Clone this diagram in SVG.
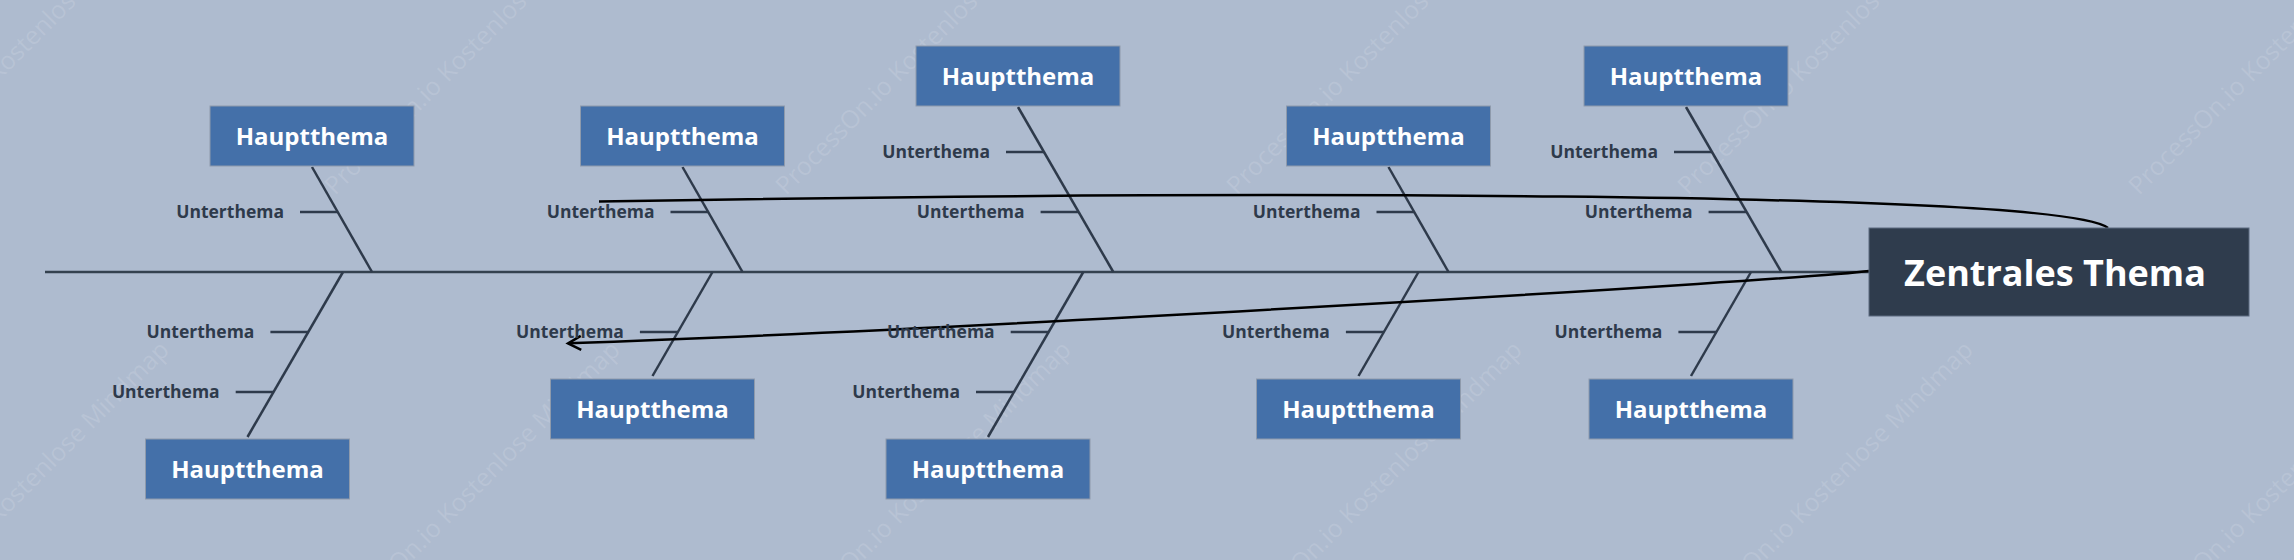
<svg xmlns="http://www.w3.org/2000/svg" width="2294" height="560" viewBox="0 0 2294 560">
<defs>
<style>
.wm{font-family:"Open Sans","Liberation Sans",sans-serif;font-size:25px;fill:#ffffff;fill-opacity:0.13}
.box{fill:#4470a9;stroke:#8e9aac;stroke-width:1}
.ht{font-family:"Open Sans","Noto Sans","Liberation Sans",sans-serif;font-weight:700;font-size:24px;fill:#ffffff;text-anchor:middle}
.ut{font-family:"Open Sans","Noto Sans","Liberation Sans",sans-serif;font-weight:700;font-size:17.5px;fill:#2e3a4b;text-anchor:end}
.bone{stroke:#2e3a4b;stroke-width:2.5;fill:none}
.tick{stroke:#2e3a4b;stroke-width:2.3;fill:none}
.spine{stroke:#34414f;stroke-width:2.5;fill:none}
.rel{stroke:#000000;stroke-width:2.5;fill:none}
</style>
<marker id="arr" viewBox="-3 -3 20 20" refX="13" refY="7" markerWidth="20" markerHeight="20" markerUnits="userSpaceOnUse" orient="auto">
<path d="M0,0 L13,7 L0,14" fill="none" stroke="#000000" stroke-width="2.5"/>
</marker>
</defs>
<rect width="2294" height="560" fill="#aebbcf"/>
<g id="watermark">
<text class="wm" transform="translate(-116,196) rotate(-45)">ProcessOn.io Kostenlose Mindmap</text>
<text class="wm" transform="translate(335,196) rotate(-45)">ProcessOn.io Kostenlose Mindmap</text>
<text class="wm" transform="translate(786,196) rotate(-45)">ProcessOn.io Kostenlose Mindmap</text>
<text class="wm" transform="translate(1237,196) rotate(-45)">ProcessOn.io Kostenlose Mindmap</text>
<text class="wm" transform="translate(1688,196) rotate(-45)">ProcessOn.io Kostenlose Mindmap</text>
<text class="wm" transform="translate(2139,196) rotate(-45)">ProcessOn.io Kostenlose Mindmap</text>
<text class="wm" transform="translate(-116,638) rotate(-45)">ProcessOn.io Kostenlose Mindmap</text>
<text class="wm" transform="translate(335,638) rotate(-45)">ProcessOn.io Kostenlose Mindmap</text>
<text class="wm" transform="translate(786,638) rotate(-45)">ProcessOn.io Kostenlose Mindmap</text>
<text class="wm" transform="translate(1237,638) rotate(-45)">ProcessOn.io Kostenlose Mindmap</text>
<text class="wm" transform="translate(1688,638) rotate(-45)">ProcessOn.io Kostenlose Mindmap</text>
<text class="wm" transform="translate(2139,638) rotate(-45)">ProcessOn.io Kostenlose Mindmap</text>
</g>
<g id="connectors">
<line class="spine" x1="45" y1="272" x2="1869" y2="272"/>
<line class="bone" x1="312" y1="167" x2="372" y2="272"/>
<line class="bone" x1="343" y1="272" x2="247.5" y2="437"/>
<line class="bone" x1="682.5" y1="167" x2="742.5" y2="272"/>
<line class="bone" x1="712.5" y1="272" x2="652.5" y2="376"/>
<line class="bone" x1="1018" y1="107" x2="1113.3" y2="272"/>
<line class="bone" x1="1083.3" y1="272" x2="988" y2="437"/>
<line class="bone" x1="1388.5" y1="167" x2="1448.5" y2="272"/>
<line class="bone" x1="1418.5" y1="272" x2="1358.5" y2="376"/>
<line class="bone" x1="1686" y1="107" x2="1781.3" y2="272"/>
<line class="bone" x1="1751" y1="272" x2="1691" y2="376"/>
<path class="rel" d="M2108,228 C2060,190 1200,191 599,201.5"/>
<path class="rel" d="M1869,271 C1800,280 1000,328 568,343.3" marker-end="url(#arr)"/>
</g>
<g id="sub-1a"><line class="tick" x1="300" y1="212" x2="338" y2="212"/><text class="ut" x="284" y="218">Unterthema</text></g>
<g id="sub-1b"><line class="tick" x1="270.4" y1="332" x2="308.4" y2="332"/><text class="ut" x="254.4" y="338">Unterthema</text></g>
<g id="sub-1c"><line class="tick" x1="235.7" y1="392" x2="273.7" y2="392"/><text class="ut" x="219.7" y="398">Unterthema</text></g>
<g id="sub-2a"><line class="tick" x1="670.5" y1="212" x2="708.5" y2="212"/><text class="ut" x="654.5" y="218">Unterthema</text></g>
<g id="sub-2b"><line class="tick" x1="639.9" y1="332" x2="677.9" y2="332"/><text class="ut" x="623.9" y="338">Unterthema</text></g>
<g id="sub-3a"><line class="tick" x1="1006" y1="152" x2="1044" y2="152"/><text class="ut" x="990" y="158">Unterthema</text></g>
<g id="sub-3b"><line class="tick" x1="1040.6" y1="212" x2="1078.6" y2="212"/><text class="ut" x="1024.6" y="218">Unterthema</text></g>
<g id="sub-3c"><line class="tick" x1="1010.7" y1="332" x2="1048.7" y2="332"/><text class="ut" x="994.7" y="338">Unterthema</text></g>
<g id="sub-3d"><line class="tick" x1="976" y1="392" x2="1014" y2="392"/><text class="ut" x="960" y="398">Unterthema</text></g>
<g id="sub-4a"><line class="tick" x1="1376.5" y1="212" x2="1414.5" y2="212"/><text class="ut" x="1360.5" y="218">Unterthema</text></g>
<g id="sub-4b"><line class="tick" x1="1345.9" y1="332" x2="1383.9" y2="332"/><text class="ut" x="1329.9" y="338">Unterthema</text></g>
<g id="sub-5a"><line class="tick" x1="1674" y1="152" x2="1712" y2="152"/><text class="ut" x="1658" y="158">Unterthema</text></g>
<g id="sub-5b"><line class="tick" x1="1708.6" y1="212" x2="1746.6" y2="212"/><text class="ut" x="1692.6" y="218">Unterthema</text></g>
<g id="sub-5c"><line class="tick" x1="1678.4" y1="332" x2="1716.4" y2="332"/><text class="ut" x="1662.4" y="338">Unterthema</text></g>
<g id="main-1-top"><rect class="box" x="210" y="106" width="204" height="60"/><text class="ht" x="312" y="144.5">Hauptthema</text></g>
<g id="main-1-bottom"><rect class="box" x="145.5" y="439" width="204" height="60"/><text class="ht" x="247.5" y="477.5">Hauptthema</text></g>
<g id="main-2-top"><rect class="box" x="580.5" y="106" width="204" height="60"/><text class="ht" x="682.5" y="144.5">Hauptthema</text></g>
<g id="main-2-bottom"><rect class="box" x="550.5" y="379" width="204" height="60"/><text class="ht" x="652.5" y="417.5">Hauptthema</text></g>
<g id="main-3-top"><rect class="box" x="916" y="46" width="204" height="60"/><text class="ht" x="1018" y="84.5">Hauptthema</text></g>
<g id="main-3-bottom"><rect class="box" x="886" y="439" width="204" height="60"/><text class="ht" x="988" y="477.5">Hauptthema</text></g>
<g id="main-4-top"><rect class="box" x="1286.5" y="106" width="204" height="60"/><text class="ht" x="1388.5" y="144.5">Hauptthema</text></g>
<g id="main-4-bottom"><rect class="box" x="1256.5" y="379" width="204" height="60"/><text class="ht" x="1358.5" y="417.5">Hauptthema</text></g>
<g id="main-5-top"><rect class="box" x="1584" y="46" width="204" height="60"/><text class="ht" x="1686" y="84.5">Hauptthema</text></g>
<g id="main-5-bottom"><rect class="box" x="1589" y="379" width="204" height="60"/><text class="ht" x="1691" y="417.5">Hauptthema</text></g>
<g id="central"><rect x="1869" y="228" width="380" height="88" fill="#2f3c4d" stroke="#5d6b80" stroke-width="1"/><text x="2055" y="285.5" font-family="'Open Sans','Noto Sans','Liberation Sans',sans-serif" font-weight="700" font-size="36" fill="#ffffff" text-anchor="middle">Zentrales Thema</text></g>
</svg>
